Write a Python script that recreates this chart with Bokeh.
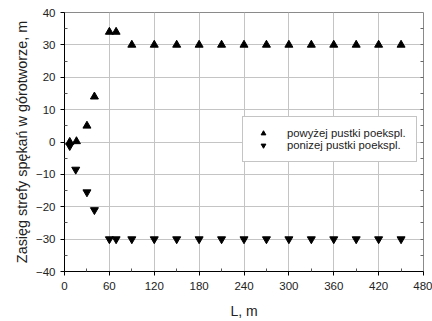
from bokeh.plotting import figure
from bokeh.models import (Range1d, LinearAxis, FixedTicker, Legend, LegendItem,
                          ColumnDataSource)
from bokeh.embed import file_html
from bokeh.resources import INLINE

# Data
L_up = [7, 16, 30, 40, 60, 69, 90, 120, 150, 180, 210, 240, 270, 300, 330, 360, 390, 420, 450]
z_up = [0, 0.2, 5, 14, 34, 34, 30, 30, 30, 30, 30, 30, 30, 30, 30, 30, 30, 30, 30]
L_down = [7, 15, 30, 40, 60, 69, 90, 120, 150, 180, 210, 240, 270, 300, 330, 360, 390, 420, 450]
z_down = [-1.2, -8.5, -15.5, -21, -30, -30, -30, -30, -30, -30, -30, -30, -30, -30, -30, -30, -30, -30, -30]

x_ticks = [0, 60, 120, 180, 240, 300, 360, 420, 480]
y_ticks = [-40, -30, -20, -10, 0, 10, 20, 30, 40]
label_up = "powyżej pustki poekspl."
label_down = "ponizej pustki poekspl."
x_label = "L, m"
y_label = "Zasięg strefy spękań w górotworze, m"

FONT = "Liberation Sans"

p = figure(width=432, height=321, output_backend="svg", toolbar_location=None,
           x_range=Range1d(0, 480), y_range=Range1d(-40, 40),
           min_border_left=64, min_border_right=9, min_border_top=12, min_border_bottom=49)
p.background_fill_color = "white"
p.border_fill_color = "white"
p.outline_line_color = "#8a8a8a"
p.outline_line_width = 1

# axes
p.xaxis.ticker = FixedTicker(ticks=x_ticks, minor_ticks=[30 + 60 * i for i in range(8)])
p.yaxis.ticker = FixedTicker(ticks=y_ticks, minor_ticks=[-35 + 10 * i for i in range(8)])
for ax in (p.xaxis[0], p.yaxis[0]):
    ax.axis_line_color = "black"
    ax.axis_line_width = 1
    ax.major_tick_line_color = "black"
    ax.minor_tick_line_color = "#555555"
    ax.major_tick_out = 4
    ax.major_tick_in = 0
    ax.minor_tick_out = 0
    ax.minor_tick_in = 3
    ax.major_label_text_font = FONT
    ax.major_label_text_font_size = "11.5px"
    ax.major_label_text_color = "#222222"
    ax.axis_label_text_font = FONT
    ax.axis_label_text_font_style = "normal"
    ax.axis_label_text_color = "#222222"
p.xaxis[0].axis_label = x_label
p.xaxis[0].axis_label_text_font_size = "14px"
p.xaxis[0].major_label_standoff = 6
p.xaxis[0].axis_label_standoff = 10
p.yaxis[0].axis_label = y_label
p.yaxis[0].axis_label_text_font_size = "14.4px"
p.yaxis[0].major_label_standoff = 5
p.yaxis[0].axis_label_standoff = 3

# right axis: inward ticks only
ra = LinearAxis(ticker=FixedTicker(ticks=[-35 + 5 * i for i in range(15)]))
ra.axis_line_color = None
ra.major_tick_in = 3
ra.major_tick_out = 0
ra.major_tick_line_color = "#666666"
ra.minor_tick_line_color = None
ra.major_label_text_font_size = "0px"
ra.major_label_text_color = None
ra.major_label_standoff = 0
p.add_layout(ra, "right")

# grid
p.xgrid.grid_line_color = "#c4c4c4"
p.ygrid.grid_line_color = "#c4c4c4"
p.xgrid.grid_line_width = 1
p.ygrid.grid_line_width = 1

src_up = ColumnDataSource(dict(x=L_up, y=z_up))
src_down = ColumnDataSource(dict(x=L_down, y=z_down))
r_up = p.scatter("x", "y", source=src_up, marker="triangle", size=8,
                 fill_color="black", line_color="black")
r_down = p.scatter("x", "y", source=src_down, marker="inverted_triangle", size=8,
                   fill_color="black", line_color="black")

legend = Legend(items=[LegendItem(label=label_up, renderers=[r_up]),
                       LegendItem(label=label_down, renderers=[r_down])],
                location=(178, 109))
legend.label_text_font = FONT
legend.label_text_font_size = "11.3px"
legend.label_text_color = "#222222"
legend.label_height = 12
legend.glyph_height = 12
legend.glyph_width = 20
legend.label_standoff = 14
legend.spacing = 0
legend.padding = 10
legend.margin = 0
legend.border_line_color = "#8a8a8a"
legend.border_line_width = 1
legend.background_fill_color = "white"
legend.background_fill_alpha = 1
p.add_layout(legend, "center")

open("out.html", "w").write(file_html(p, INLINE))
